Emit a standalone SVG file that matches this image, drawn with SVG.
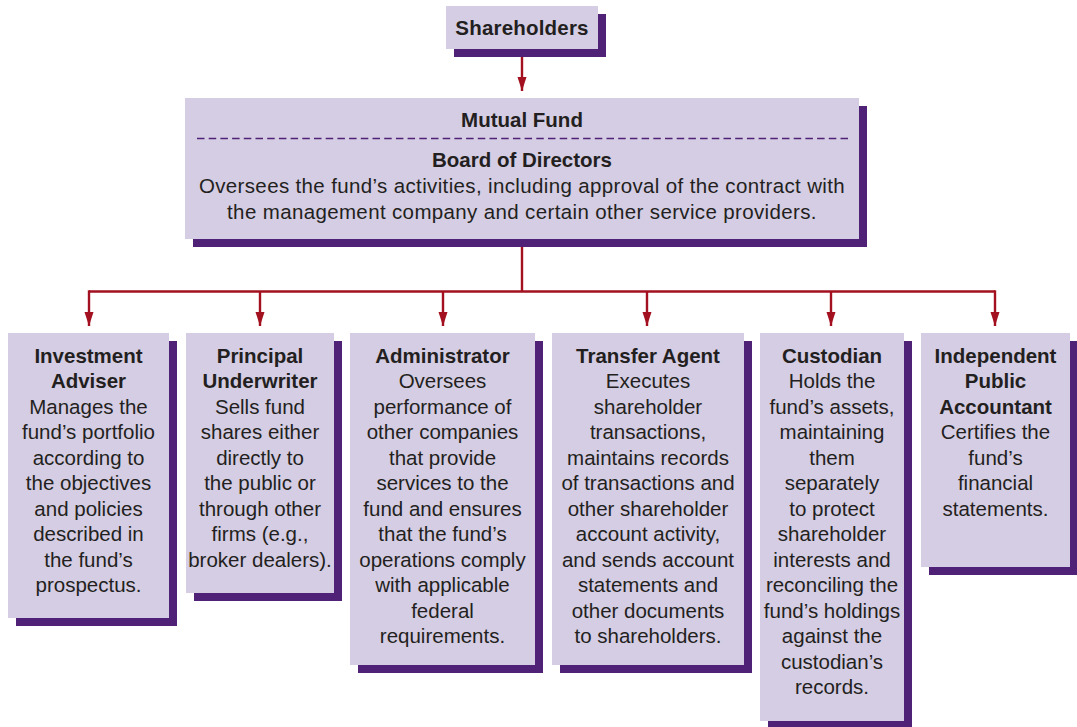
<svg xmlns="http://www.w3.org/2000/svg" width="1077" height="727" viewBox="0 0 1077 727">
<style>
.box{fill:#d5cde3}
.sh{fill:#4f2277}
text{font-family:"Liberation Sans",Arial,sans-serif;font-size:20.5px;fill:#231f20;text-anchor:middle}
.b{font-weight:bold}
.w{letter-spacing:0.36px}
.conn{stroke:#a3101f;stroke-width:2.4;fill:none}
</style>
<defs>
<marker id="ah" markerUnits="userSpaceOnUse" markerWidth="16" markerHeight="10" refX="14" refY="4.5" orient="auto">
<path d="M0,0 L14,4.5 L0,9 Z" fill="#a3101f"/>
</marker>
</defs>
<rect width="1077" height="727" fill="#fff"/>
<g id="connectors">
<path class="conn" d="M522,57 V91" marker-end="url(#ah)"/>
<path class="conn" d="M522,247 V291.5 M89,291.5 H995"/>
<path class="conn" d="M89,290.3 V326" marker-end="url(#ah)"/>
<path class="conn" d="M260,291.5 V326" marker-end="url(#ah)"/>
<path class="conn" d="M443,291.5 V326" marker-end="url(#ah)"/>
<path class="conn" d="M647,291.5 V326" marker-end="url(#ah)"/>
<path class="conn" d="M831,291.5 V326" marker-end="url(#ah)"/>
<path class="conn" d="M995,290.3 V326" marker-end="url(#ah)"/>
</g>
<g id="shareholders">
<rect class="sh" x="454" y="14" width="152" height="43"/>
<rect class="box" x="446" y="6" width="152" height="43"/>
<text class="b" x="522" y="35" style="letter-spacing:0.2px">Shareholders</text>
</g>
<g id="mutual-fund">
<rect class="sh" x="193" y="106" width="674" height="141"/>
<rect class="box" x="185" y="98" width="674" height="141"/>
<text class="b" x="522" y="127">Mutual Fund</text>
<line x1="197" y1="138.5" x2="848" y2="138.5" stroke="#4f2277" stroke-width="1.3" stroke-dasharray="7.5,4.2"/>
<text class="b" x="522" y="167">Board of Directors</text>
<text class="w" x="522" y="193">Oversees the fund’s activities, including approval of the contract with</text>
<text class="w" x="522" y="219">the management company and certain other service providers.</text>
</g>
<g id="investment-adviser">
<rect class="sh" x="16" y="341" width="161" height="285"/>
<rect class="box" x="8" y="333" width="161" height="285"/>
<text x="88.5" y="362.5"><tspan class="b">Investment</tspan><tspan class="b" x="88.5" dy="25.5">Adviser</tspan><tspan x="88.5" dy="25.5">Manages the</tspan><tspan x="88.5" dy="25.5">fund’s portfolio</tspan><tspan x="88.5" dy="25.5">according to</tspan><tspan x="88.5" dy="25.5">the objectives</tspan><tspan x="88.5" dy="25.5">and policies</tspan><tspan x="88.5" dy="25.5">described in</tspan><tspan x="88.5" dy="25.5">the fund’s</tspan><tspan x="88.5" dy="25.5">prospectus.</tspan></text>
</g>
<g id="principal-underwriter">
<rect class="sh" x="194" y="341" width="148" height="260"/>
<rect class="box" x="186" y="333" width="148" height="260"/>
<text x="260" y="362.5"><tspan class="b">Principal</tspan><tspan class="b" x="260" dy="25.5">Underwriter</tspan><tspan x="260" dy="25.5">Sells fund</tspan><tspan x="260" dy="25.5">shares either</tspan><tspan x="260" dy="25.5">directly to</tspan><tspan x="260" dy="25.5">the public or</tspan><tspan x="260" dy="25.5">through other</tspan><tspan x="260" dy="25.5">firms (e.g.,</tspan><tspan x="260" dy="25.5">broker dealers).</tspan></text>
</g>
<g id="administrator">
<rect class="sh" x="358" y="341" width="185" height="332"/>
<rect class="box" x="350" y="333" width="185" height="332"/>
<text x="442.5" y="362.5"><tspan class="b">Administrator</tspan><tspan x="442.5" dy="25.5">Oversees</tspan><tspan x="442.5" dy="25.5">performance of</tspan><tspan x="442.5" dy="25.5">other companies</tspan><tspan x="442.5" dy="25.5">that provide</tspan><tspan x="442.5" dy="25.5">services to the</tspan><tspan x="442.5" dy="25.5">fund and ensures</tspan><tspan x="442.5" dy="25.5">that the fund’s</tspan><tspan x="442.5" dy="25.5">operations comply</tspan><tspan x="442.5" dy="25.5">with applicable</tspan><tspan x="442.5" dy="25.5">federal</tspan><tspan x="442.5" dy="25.5">requirements.</tspan></text>
</g>
<g id="transfer-agent">
<rect class="sh" x="560" y="341" width="192" height="332"/>
<rect class="box" x="552" y="333" width="192" height="332"/>
<text x="648" y="362.5"><tspan class="b">Transfer Agent</tspan><tspan x="648" dy="25.5">Executes</tspan><tspan x="648" dy="25.5">shareholder</tspan><tspan x="648" dy="25.5">transactions,</tspan><tspan x="648" dy="25.5">maintains records</tspan><tspan x="648" dy="25.5">of transactions and</tspan><tspan x="648" dy="25.5">other shareholder</tspan><tspan x="648" dy="25.5">account activity,</tspan><tspan x="648" dy="25.5">and sends account</tspan><tspan x="648" dy="25.5">statements and</tspan><tspan x="648" dy="25.5">other documents</tspan><tspan x="648" dy="25.5">to shareholders.</tspan></text>
</g>
<g id="custodian">
<rect class="sh" x="768" y="341" width="144" height="386"/>
<rect class="box" x="760" y="333" width="144" height="388"/>
<text x="832" y="362.5"><tspan class="b">Custodian</tspan><tspan x="832" dy="25.5">Holds the</tspan><tspan x="832" dy="25.5">fund’s assets,</tspan><tspan x="832" dy="25.5">maintaining</tspan><tspan x="832" dy="25.5">them</tspan><tspan x="832" dy="25.5">separately</tspan><tspan x="832" dy="25.5">to protect</tspan><tspan x="832" dy="25.5">shareholder</tspan><tspan x="832" dy="25.5">interests and</tspan><tspan x="832" dy="25.5">reconciling the</tspan><tspan x="832" dy="25.5">fund’s holdings</tspan><tspan x="832" dy="25.5">against the</tspan><tspan x="832" dy="25.5">custodian’s</tspan><tspan x="832" dy="25.5">records.</tspan></text>
</g>
<g id="independent-public-accountant">
<rect class="sh" x="929" y="341" width="148" height="234"/>
<rect class="box" x="921" y="333" width="149" height="234"/>
<text x="995.5" y="362.5"><tspan class="b">Independent</tspan><tspan class="b" x="995.5" dy="25.5">Public</tspan><tspan class="b" x="995.5" dy="25.5">Accountant</tspan><tspan x="995.5" dy="25.5">Certifies the</tspan><tspan x="995.5" dy="25.5">fund’s</tspan><tspan x="995.5" dy="25.5">financial</tspan><tspan x="995.5" dy="25.5">statements.</tspan></text>
</g>
</svg>
